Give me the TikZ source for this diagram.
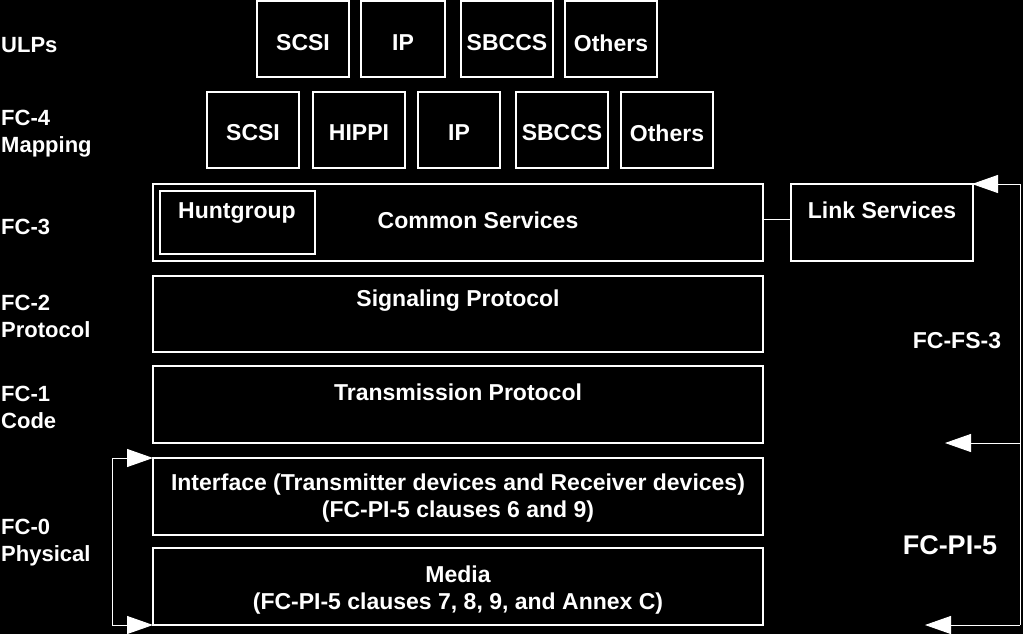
\documentclass[tikz,border=0pt]{standalone}
\usepackage{fontspec}
\setmainfont{Liberation Sans}
\usetikzlibrary{arrows.meta}
\begin{document}
\begin{tikzpicture}[x=1pt,y=-1pt,
  bx/.style={draw=white,line width=1.2pt},
  t/.style={text=white,font=\bfseries\fontsize{23}{27}\selectfont,align=center,inner sep=0pt},
  lab/.style={text=white,font=\bfseries\fontsize{22}{27}\selectfont,align=left,anchor=west,inner sep=0pt},
  arr/.style={draw=white,line width=1pt,-{Triangle[length=26pt,width=18pt,fill=white]}}]
\fill[black] (0,0) rectangle (1023,634);
\useasboundingbox (0,0) rectangle (1023,634);
% ULPs
\foreach \n/\a/\b/\s in {u1/257/349/SCSI,u2/361/445/IP,u3/461/553/SBCCS,u4/565/657/Others}{
  \draw[bx] (\a,1) rectangle (\b,77);
  \node[t] (\n) at ({(\a+\b)/2},43) {\s};}
% FC-4
\foreach \n/\a/\b/\s in {m1/207/299/SCSI,m2/313/405/HIPPI,m3/418/500/IP,m4/516/608/SBCCS,m5/621/713/Others}{
  \draw[bx] (\a,92) rectangle (\b,168);
  \node[t] (\n) at ({(\a+\b)/2},133) {\s};}
% FC-3
\draw[bx] (153,184) rectangle (763,261);
\draw[bx] (160,191) rectangle (315,254);
\node[t] (hg) at (237,213) {Huntgroup};
\node[t] (cs) at (478,220) {Common Services};
\draw[bx] (791,184) rectangle (973,261);
\node[t] (ls) at (882,210) {Link Services};
\coordinate (csr) at (763,219); \coordinate (lsl) at (791,219);
\draw[white,line width=1pt] (csr) -- (lsl);
% FC-2, FC-1
\draw[bx] (153,276) rectangle (763,352);
\node[t] (sp) at (458,301) {Signaling Protocol};
\draw[bx] (153,366) rectangle (763,443);
\node[t] (tp) at (458,392) {Transmission Protocol};
% FC-0
\draw[bx] (153,458) rectangle (763,535);
\node[t] (if) at (458,498) {Interface (Transmitter devices and Receiver devices)\\(FC-PI-5 clauses 6 and 9)};
\draw[bx] (153,548) rectangle (763,625);
\node[t] (md) at (458,590) {Media\\(FC-PI-5 clauses 7, 8, 9, and Annex C)};
% left labels
\node[lab] (l1) at (1,45) {ULPs};
\node[lab] (l2) at (1,134) {FC-4\\Mapping};
\node[lab] (l3) at (1,227) {FC-3};
\node[lab] (l4) at (1,316) {FC-2\\Protocol};
\node[lab] (l5) at (1,407) {FC-1\\Code};
\node[lab] (l6) at (1,543) {FC-0\\Physical};
% right
\node[t] (fs) at (957,341) {FC-FS-3};
\node[t,font=\bfseries\fontsize{27}{31}\selectfont] (pi) at (950,545) {FC-PI-5};
\coordinate (r1) at (1020,184); \coordinate (r2) at (1020,443); \coordinate (r3) at (1020,625);
\coordinate (t1) at (972,184); \coordinate (t2) at (945,443); \coordinate (t3) at (925,625);
\draw[white,line width=1pt] (r1) -- (r3);
\draw[arr] (r1) -- (t1);
\draw[arr] (r2) -- (t2);
\draw[arr] (r3) -- (t3);
% left bracket
\coordinate (q1) at (112,458); \coordinate (q2) at (112,625);
\draw[white,line width=1pt] (q1) -- (q2);
\draw[arr] (q1) -- (153,458);
\draw[arr] (q2) -- (153,625);
\end{tikzpicture}
\end{document}
